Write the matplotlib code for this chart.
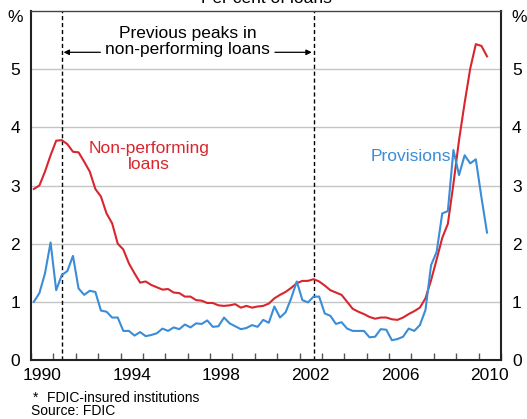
import numpy as np
import matplotlib
matplotlib.use("Agg")
import matplotlib.pyplot as plt

plt.rcParams['font.family'] = ['Liberation Sans', 'DejaVu Sans']

# quarterly data, 1990 Q1 - 2010 Q2 (per cent of loans)
npl = [2.94, 3.00, 3.24, 3.52, 3.77, 3.78, 3.71, 3.58, 3.57, 3.41,
       3.24, 2.94, 2.81, 2.52, 2.35, 2.00, 1.90, 1.66, 1.49, 1.33,
       1.35, 1.29, 1.25, 1.21, 1.22, 1.16, 1.15, 1.09, 1.09, 1.03,
       1.02, 0.98, 0.98, 0.94, 0.93, 0.94, 0.96, 0.90, 0.93, 0.90,
       0.92, 0.93, 0.97, 1.06, 1.12, 1.17, 1.24, 1.32, 1.36, 1.36,
       1.39, 1.35, 1.28, 1.20, 1.16, 1.12, 1.00, 0.88, 0.83, 0.79,
       0.74, 0.71, 0.73, 0.73, 0.70, 0.69, 0.73, 0.79, 0.84, 0.90,
       1.06, 1.37, 1.73, 2.10, 2.34, 3.03, 3.78, 4.42, 5.01, 5.43,
       5.40, 5.22]
provisions = [1.00, 1.15, 1.49, 2.02, 1.20, 1.46, 1.53, 1.79, 1.23, 1.12,
              1.19, 1.17, 0.85, 0.83, 0.73, 0.73, 0.50, 0.50, 0.42, 0.48,
              0.41, 0.43, 0.46, 0.54, 0.50, 0.56, 0.53, 0.61, 0.56, 0.63,
              0.62, 0.68, 0.57, 0.58, 0.73, 0.63, 0.58, 0.53, 0.55, 0.60,
              0.57, 0.69, 0.64, 0.92, 0.73, 0.82, 1.06, 1.35, 1.03, 0.99,
              1.09, 1.09, 0.80, 0.76, 0.62, 0.65, 0.54, 0.50, 0.50, 0.50,
              0.39, 0.40, 0.53, 0.52, 0.34, 0.36, 0.40, 0.54, 0.50, 0.60,
              0.86, 1.63, 1.86, 2.52, 2.56, 3.61, 3.18, 3.52, 3.38, 3.45,
              2.80, 2.19]
dates = 1990.125 + np.arange(len(npl)) * 0.25
year_labels = [1990, 1994, 1998, 2002, 2006, 2010]
y_ticks = [0, 1, 2, 3, 4, 5]

RED = '#d9262e'
BLUE = '#3a8dd6'

fig = plt.figure(figsize=(5.27, 4.19), dpi=100)
ax = fig.add_axes([31 / 527, 1 - 360 / 419, 470 / 527, 349 / 419])

ax.set_xlim(1990, 2011)
ax.set_ylim(0, 6)

for y in range(1, 6):
    ax.axhline(y, color='#c4c4c4', lw=1, zorder=1)

ax.plot(dates, npl, color=RED, lw=1.5, zorder=3)
ax.plot(dates, provisions, color=BLUE, lw=1.5, zorder=3)

# dashed lines at previous NPL peaks
npl_arr = np.array(npl)
p1 = dates[np.argmax(npl_arr[:20])]
p2 = dates[20 + np.argmax(npl_arr[20:60])]
for p in (p1, p2):
    ax.axvline(p, color='black', lw=1, ls=(0, (3, 2)), zorder=2)

ax.text(1997.0, 5.48, "Previous peaks in\nnon-performing loans", ha='center',
        va='center', fontsize=12.5, linespacing=1.05)
ax.annotate("", xy=(p1 + 0.08, 5.29), xytext=(1993.1, 5.29),
            arrowprops=dict(arrowstyle='-|>', color='black', lw=0.9,
                            mutation_scale=8, shrinkA=0, shrinkB=0))
ax.annotate("", xy=(p2 - 0.08, 5.29), xytext=(2000.9, 5.29),
            arrowprops=dict(arrowstyle='-|>', color='black', lw=0.9,
                            mutation_scale=8, shrinkA=0, shrinkB=0))

ax.text(1995.26, 3.50, "Non-performing\nloans", color=RED, ha='center',
        va='center', fontsize=12.5, linespacing=1.05)
ax.text(2006.98, 3.49, "Provisions", color=BLUE, ha='center', va='center',
        fontsize=12.5)

# x ticks: year boundaries, labels centred in the year
ax.set_xticks(range(1990, 2012))
ax.set_xticklabels([])
ax.set_xticks([y + 0.5 for y in year_labels], minor=True)
ax.set_xticklabels([str(y) for y in year_labels], minor=True, fontsize=12.5)
ax.tick_params(axis='x', which='major', direction='in', length=5, width=1,
               color='#555555')
ax.tick_params(axis='x', which='minor', length=0, pad=6)

ax.set_yticks(y_ticks)
ax.set_yticklabels([str(v) for v in y_ticks], fontsize=12.5)
ax.tick_params(axis='y', length=0, pad=8, labelleft=True, labelright=True)

for s in ('left', 'right', 'bottom'):
    ax.spines[s].set_linewidth(1.5)
    ax.spines[s].set_color('#222222')
ax.spines['top'].set_linewidth(1)
ax.spines['top'].set_color('#444444')

fig.text(15 / 527, 1 - 18 / 419, "%", fontsize=12.5, ha='center', va='center')
fig.text(519 / 527, 1 - 18 / 419, "%", fontsize=12.5, ha='center', va='center')
fig.text(266 / 527, 1 - 3 / 419, "Per cent of loans", fontsize=12.5,
         ha='center', va='baseline')

fig.text(33 / 527, 1 - 398 / 419, "*", fontsize=10, ha='left', va='center')
fig.text(47 / 527, 1 - 398 / 419, "FDIC-insured institutions", fontsize=10,
         ha='left', va='center')
fig.text(31 / 527, 1 - 411 / 419, "Source: FDIC", fontsize=10,
         ha='left', va='center')

fig.savefig("out.png", dpi=100)
